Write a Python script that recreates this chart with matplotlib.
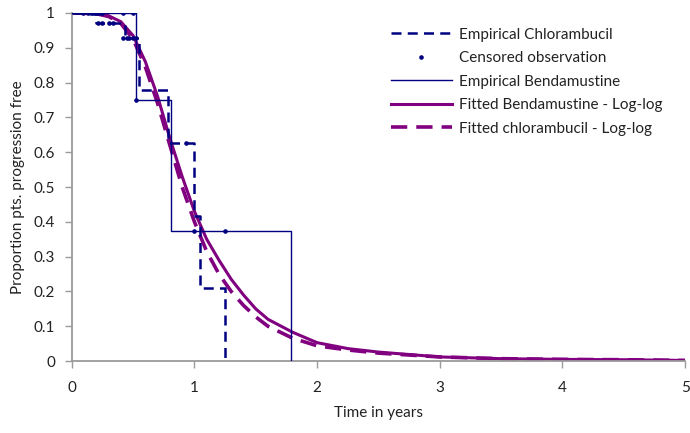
import matplotlib
matplotlib.use("Agg")
import matplotlib.pyplot as plt

plt.rcParams['font.family'] = ['Lato', 'DejaVu Sans']

# Empirical Kaplan-Meier step data
chl_t = [0.0, 0.20, 0.43, 0.55, 0.785, 0.995, 1.045, 1.25]
chl_s = [1.0, 0.970, 0.927, 0.779, 0.627, 0.418, 0.209, 0.0]
ben_t = [0.0, 0.52, 0.805, 1.79]
ben_s = [1.0, 0.750, 0.375, 0.0]

# Censored observations
cens_chl_t = [0.21, 0.25, 0.30, 0.34, 0.42, 0.45, 0.47, 0.50, 0.52, 0.935]
cens_chl_s = [0.970, 0.970, 0.970, 0.970, 0.927, 0.927, 0.927, 0.927, 0.927, 0.627]
cens_ben_t = [0.09, 0.13, 0.16, 0.17, 0.19, 0.21, 0.24, 0.25, 0.42, 0.50, 0.52, 1.00, 1.25]
cens_ben_s = [1.0, 1.0, 1.0, 1.0, 1.0, 1.0, 1.0, 1.0, 1.0, 1.0, 0.750, 0.375, 0.375]

# Fitted curves
fit_t = [0.0, 0.2, 0.3, 0.4, 0.5, 0.6, 0.7, 0.8, 0.9, 1.0, 1.1, 1.2, 1.3, 1.4,
         1.5, 1.6, 1.8, 2.0, 2.25, 2.5, 3.0, 3.5, 4.0, 4.5, 5.0]
fit_ben = [1.0, 0.998, 0.992, 0.975, 0.935, 0.86, 0.76, 0.64, 0.53, 0.43, 0.35,
           0.29, 0.235, 0.19, 0.15, 0.12, 0.083, 0.053, 0.036, 0.026, 0.012,
           0.007, 0.005, 0.004, 0.002]
fit_chl = [1.0, 0.998, 0.99, 0.97, 0.925, 0.845, 0.74, 0.62, 0.50, 0.40, 0.315,
           0.25, 0.20, 0.16, 0.127, 0.10, 0.066, 0.044, 0.032, 0.023, 0.012,
           0.007, 0.005, 0.004, 0.002]

x_ticks = [0, 1, 2, 3, 4, 5]
y_ticks = [0, 0.1, 0.2, 0.3, 0.4, 0.5, 0.6, 0.7, 0.8, 0.9, 1]
y_labels = ['0', '0.1', '0.2', '0.3', '0.4', '0.5', '0.6', '0.7', '0.8', '0.9', '1']

navy = '#000080'
purple = '#800080'
gray = '#9a9a9a'

fig = plt.figure(figsize=(6.9, 4.33), dpi=100)
ax = fig.add_axes([0.104, 0.166, 0.889, 0.804])

ax.step(chl_t, chl_s, where='post', color=navy, lw=1.8, dashes=(4, 2.5),
        label='Empirical Chlorambucil', zorder=3)
ax.plot(cens_chl_t + cens_ben_t, cens_chl_s + cens_ben_s, ls='none', marker='o',
        ms=2.3, color=navy, label='Censored observation', zorder=4)
ax.step(ben_t, ben_s, where='post', color=navy, lw=1.0,
        label='Empirical Bendamustine', zorder=3)
ax.plot(fit_t, fit_ben, color=purple, lw=2.2,
        label='Fitted Bendamustine - Log-log', zorder=2)
ax.plot(fit_t, fit_chl, color=purple, lw=2.6, dashes=(4.5, 2.5),
        label='Fitted chlorambucil - Log-log', zorder=2)

ax.set_xlim(0, 5)
ax.set_ylim(0, 1)
ax.set_xticks(x_ticks)
ax.set_xticklabels([str(v) for v in x_ticks])
ax.set_yticks(y_ticks)
ax.set_yticklabels(y_labels)

for s in ['top', 'right']:
    ax.spines[s].set_visible(False)
for s in ['left', 'bottom']:
    ax.spines[s].set_color(gray)
    ax.spines[s].set_linewidth(1.3)
ax.tick_params(axis='both', colors=gray, length=5, width=1, labelcolor='#222222',
               labelsize=11)
ax.tick_params(axis='x', pad=9)
ax.tick_params(axis='y', pad=7)

ax.set_xlabel('Time in years', fontsize=11, color='#222222', labelpad=8)
ax.set_ylabel('Proportion pts. progression free', fontsize=11, color='#222222',
              labelpad=6)

leg = ax.legend(loc='upper left', bbox_to_anchor=(0.51, 0.975), frameon=False,
                fontsize=11, handlelength=4.0, handletextpad=0.45,
                labelspacing=0.62, borderaxespad=0)
for t in leg.get_texts():
    t.set_color('#222222')

fig.savefig('out.png', dpi=100)
